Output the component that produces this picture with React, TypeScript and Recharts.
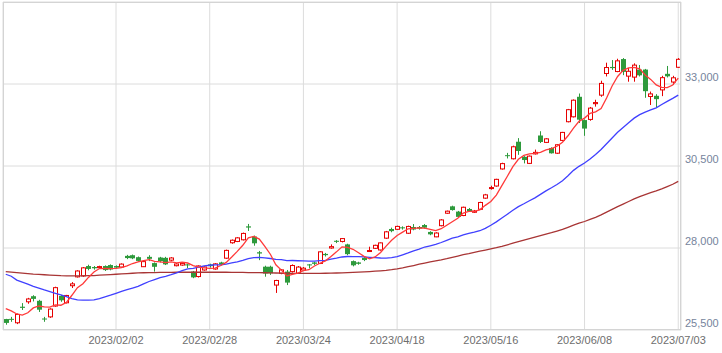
import { Bar, CartesianGrid, ComposedChart, Line, XAxis, YAxis } from "recharts";

const dates = [
  "2023/01/04", "2023/01/05", "2023/01/06", "2023/01/10", "2023/01/11", "2023/01/12", "2023/01/13", "2023/01/16", "2023/01/17", "2023/01/18",
  "2023/01/19", "2023/01/20", "2023/01/23", "2023/01/24", "2023/01/25", "2023/01/26", "2023/01/27", "2023/01/30", "2023/01/31", "2023/02/01",
  "2023/02/02", "2023/02/03", "2023/02/06", "2023/02/07", "2023/02/08", "2023/02/09", "2023/02/10", "2023/02/13", "2023/02/14", "2023/02/15",
  "2023/02/16", "2023/02/17", "2023/02/20", "2023/02/21", "2023/02/22", "2023/02/24", "2023/02/27", "2023/02/28", "2023/03/01", "2023/03/02",
  "2023/03/03", "2023/03/06", "2023/03/07", "2023/03/08", "2023/03/09", "2023/03/10", "2023/03/13", "2023/03/14", "2023/03/15", "2023/03/16",
  "2023/03/17", "2023/03/20", "2023/03/22", "2023/03/23", "2023/03/24", "2023/03/27", "2023/03/28", "2023/03/29", "2023/03/30", "2023/03/31",
  "2023/04/03", "2023/04/04", "2023/04/05", "2023/04/06", "2023/04/07", "2023/04/10", "2023/04/11", "2023/04/12", "2023/04/13", "2023/04/14",
  "2023/04/17", "2023/04/18", "2023/04/19", "2023/04/20", "2023/04/21", "2023/04/24", "2023/04/25", "2023/04/26", "2023/04/27", "2023/04/28",
  "2023/05/01", "2023/05/02", "2023/05/08", "2023/05/09", "2023/05/10", "2023/05/11", "2023/05/12", "2023/05/15", "2023/05/16", "2023/05/17",
  "2023/05/18", "2023/05/19", "2023/05/22", "2023/05/23", "2023/05/24", "2023/05/25", "2023/05/26", "2023/05/29", "2023/05/30", "2023/05/31",
  "2023/06/01", "2023/06/02", "2023/06/05", "2023/06/06", "2023/06/07", "2023/06/08", "2023/06/09", "2023/06/12", "2023/06/13", "2023/06/14",
  "2023/06/15", "2023/06/16", "2023/06/19", "2023/06/20", "2023/06/21", "2023/06/22", "2023/06/23", "2023/06/26", "2023/06/27", "2023/06/28",
  "2023/06/29", "2023/06/30", "2023/07/03",
];

const openPrices = [
  25834, 25840, 25720, 26210, 26360, 26530, 26390, 25850, 25900, 26230,
  26540, 26330, 26850, 27120, 27150, 27450, 27420, 27400, 27450, 27480,
  27450, 27420, 27760, 27780, 27720, 27430, 27730, 27540, 27710, 27700,
  27630, 27460, 27480, 27500, 27280, 27130, 27330, 27500, 27360, 27560,
  27690, 28160, 28200, 28250, 28660, 28350, 27870, 27430, 27430, 26870,
  27230, 27280, 27280, 27230, 27330, 27500, 27560, 27530, 27820, 28000,
  28220, 28200, 28110, 27600, 27560, 27700, 27900, 27990, 27940, 28300,
  28580, 28570, 28630, 28450, 28640, 28640, 28700, 28490, 28340, 28680,
  29060, 29270, 29110, 28990, 29190, 29090, 29180, 29520, 29830, 29890,
  30410, 30830, 30720, 31240, 30780, 30580, 30870, 31430, 31220, 31050,
  30890, 31280, 31850, 32000, 32610, 31900, 31920, 32400, 32660, 33320,
  33520, 33380, 33760, 33240, 33210, 33440, 33440, 32620, 32640, 32820,
  33310, 33060, 33510,
];

const highPrices = [
  25840, 25900, 26000, 26320, 26480, 26560, 26420, 25900, 26160, 26820,
  26570, 26570, 26960, 27320, 27420, 27490, 27450, 27460, 27470, 27500,
  27470, 27530, 27790, 27800, 27740, 27600, 27780, 27560, 27730, 27730,
  27720, 27540, 27560, 27520, 27300, 27470, 27440, 27520, 27540, 27580,
  27950, 28260, 28330, 28470, 28734, 28380, 27910, 27460, 27460, 27030,
  27360, 27330, 27500, 27450, 27420, 27510, 27580, 27900, 27850, 28110,
  28240, 28300, 28130, 27620, 27580, 27720, 28040, 28100, 28170, 28520,
  28620, 28680, 28660, 28680, 28730, 28670, 28730, 28510, 28480, 28880,
  29140, 29290, 29130, 29260, 29220, 29160, 29410, 29650, 29900, 30110,
  30600, 30900, 31120, 31350, 30800, 30820, 31000, 31560, 31350, 31070,
  31160, 31540, 32240, 32530, 32710, 31920, 32300, 32520, 33100, 33650,
  33730, 33770, 33790, 33490, 33630, 33580, 33460, 32770, 32690, 33250,
  33550, 33250, 33790,
];

const lowPrices = [
  25661, 25750, 25680, 26110, 26300, 26370, 26050, 25750, 25870, 26210,
  26360, 26310, 26780, 27100, 27120, 27320, 27340, 27370, 27300, 27320,
  27380, 27400, 27660, 27660, 27580, 27420, 27600, 27280, 27560, 27480,
  27600, 27440, 27460, 27390, 27080, 27100, 27310, 27400, 27340, 27470,
  27670, 28130, 28180, 28230, 28520, 28070, 27630, 27125, 27180, 26630,
  27200, 26870, 27250, 27210, 27300, 27380, 27480, 27510, 27740, 27980,
  28150, 28170, 27780, 27440, 27490, 27600, 27880, 27970, 27920, 28280,
  28480, 28550, 28560, 28430, 28540, 28560, 28590, 28390, 28330, 28660,
  29040, 29140, 28920, 28970, 29100, 29070, 29160, 29500, 29780, 29870,
  30390, 30730, 30700, 30840, 30580, 30560, 30850, 31200, 31200, 30880,
  30870, 31260, 31830, 31980, 31810, 31420, 31880, 32310, 32610, 33230,
  33430, 33360, 33270, 33070, 33070, 33230, 32580, 32360, 32270, 32630,
  33200, 32970, 33490,
];

const closePrices = [
  25716, 25820, 25973, 26175, 26446, 26449, 26119, 25822, 26138, 26791,
  26405, 26553, 26906, 27299, 27395, 27362, 27382, 27433, 27327, 27346,
  27402, 27509, 27693, 27685, 27606, 27584, 27670, 27427, 27602, 27501,
  27696, 27513, 27531, 27473, 27104, 27453, 27423, 27445, 27516, 27498,
  27927, 28237, 28309, 28444, 28623, 28143, 27832, 27222, 27229, 27010,
  27333, 26945, 27466, 27419, 27385, 27476, 27518, 27883, 27782, 28041,
  28188, 28287, 27813, 27472, 27518, 27633, 27923, 28082, 28156, 28493,
  28514, 28658, 28606, 28657, 28564, 28593, 28620, 28416, 28457, 28856,
  29123, 29157, 28949, 29242, 29122, 29126, 29388, 29620, 29842, 30093,
  30573, 30808, 31086, 30957, 30682, 30801, 30916, 31233, 31328, 30887,
  31148, 31524, 32217, 32506, 31913, 31641, 32265, 32434, 33018, 33502,
  33485, 33706, 33370, 33388, 33575, 33264, 32781, 32698, 32538, 33193,
  33234, 33189, 33753,
];

// moving averages (5 / 25 / 75 days)
const ma5 = [
  26150, 26084, 25989, 25956, 26026, 26173, 26232, 26202, 26195, 26264,
  26255, 26342, 26559, 26791, 26912, 27103, 27269, 27374, 27380, 27370,
  27378, 27403, 27455, 27527, 27579, 27615, 27648, 27594, 27578, 27557,
  27579, 27548, 27569, 27543, 27463, 27415, 27397, 27380, 27388, 27467,
  27562, 27725, 27897, 28083, 28308, 28351, 28270, 28053, 27810, 27487,
  27325, 27148, 27197, 27235, 27310, 27338, 27453, 27536, 27609, 27740,
  27882, 28036, 28022, 27960, 27856, 27745, 27672, 27726, 27862, 28057,
  28234, 28381, 28485, 28586, 28600, 28616, 28608, 28570, 28530, 28588,
  28694, 28802, 28908, 29065, 29119, 29119, 29165, 29300, 29420, 29614,
  29903, 30187, 30480, 30703, 30821, 30867, 30888, 30918, 30992, 31033,
  31102, 31224, 31421, 31656, 31862, 31960, 32108, 32152, 32254, 32572,
  32941, 33229, 33416, 33490, 33505, 33461, 33276, 33141, 32971, 32895,
  32889, 32970, 33181,
];

const ma25 = [
  27200, 27140, 27020, 26960, 26900, 26830, 26780, 26720, 26670, 26620,
  26570, 26520, 26460, 26420, 26410, 26410, 26420, 26460, 26510, 26560,
  26620, 26680, 26730, 26780, 26830, 26905, 26979, 27037, 27094, 27136,
  27186, 27242, 27310, 27364, 27376, 27418, 27453, 27474, 27483, 27487,
  27510, 27544, 27579, 27624, 27675, 27704, 27717, 27699, 27680, 27656,
  27646, 27617, 27619, 27612, 27607, 27598, 27598, 27613, 27625, 27662,
  27692, 27726, 27741, 27739, 27740, 27728, 27716, 27707, 27695, 27690,
  27705, 27738, 27793, 27850, 27912, 27963, 28030, 28068, 28109, 28168,
  28234, 28300, 28342, 28401, 28444, 28481, 28526, 28598, 28693, 28796,
  28913, 29029, 29149, 29261, 29348, 29440, 29530, 29635, 29742, 29835,
  29937, 30053, 30205, 30367, 30490, 30590, 30715, 30854, 31005, 31180,
  31355, 31527, 31677, 31819, 31959, 32066, 32145, 32210, 32273, 32373,
  32471, 32561, 32662,
];

const ma75 = [
  27280, 27265, 27250, 27235, 27220, 27205, 27195, 27185, 27175, 27165,
  27155, 27150, 27148, 27148, 27150, 27155, 27160, 27170, 27180, 27190,
  27200, 27210, 27220, 27230, 27240, 27245, 27250, 27252, 27254, 27256,
  27258, 27260, 27260, 27260, 27260, 27260, 27260, 27260, 27260, 27260,
  27260, 27258, 27256, 27254, 27252, 27250, 27248, 27245, 27242, 27238,
  27234, 27230, 27228, 27226, 27225, 27225, 27226, 27228, 27230, 27234,
  27238, 27242, 27248, 27255, 27262, 27270, 27280, 27292, 27305, 27320,
  27340, 27365, 27395, 27430, 27466, 27505, 27542, 27575, 27605, 27637,
  27673, 27713, 27755, 27796, 27827, 27864, 27902, 27938, 27972, 28008,
  28050, 28096, 28145, 28193, 28238, 28283, 28328, 28376, 28424, 28468,
  28516, 28567, 28631, 28696, 28755, 28808, 28871, 28936, 29010, 29096,
  29176, 29260, 29339, 29417, 29498, 29569, 29630, 29688, 29743, 29804,
  29872, 29943, 30030,
];

const dateTicks = ["2023/02/02", "2023/02/28", "2023/03/24", "2023/04/18", "2023/05/16", "2023/06/08", "2023/07/03"];
const priceTicks = [25500, 28000, 30500, 33000];

const UP = "#e60000";
const DOWN = "#2e9a3c";
const FONT = "'Liberation Sans', Arial, sans-serif";

const data = dates.map((date, i) => ({
  date,
  open: openPrices[i],
  high: highPrices[i],
  low: lowPrices[i],
  close: closePrices[i],
  ma5: ma5[i],
  ma25: ma25[i],
  ma75: ma75[i],
}));

type CandleProps = {
  x?: number;
  y?: number;
  width?: number;
  height?: number;
  payload?: (typeof data)[number];
};

function Candle({ x = 0, y = 0, width = 0, height = 0, payload }: CandleProps) {
  if (!payload) return null;
  const { open, close, high, low } = payload;
  const top = Math.min(y, y + height);
  const span = Math.abs(height);
  const perUnit = span / (high - low || 1);
  const toY = (v: number) => top + (high - v) * perUnit;
  const center = Math.round(x + width / 2);
  const up = close >= open;
  const color = up ? UP : DOWN;
  const bodyTop = toY(Math.max(open, close));
  const bodyBottom = Math.max(toY(Math.min(open, close)), bodyTop + 1);

  return (
    <g>
      <line x1={center + 0.5} x2={center + 0.5} y1={toY(high)} y2={toY(low)} stroke={color} strokeWidth={1} />
      {up ? (
        <rect
          x={center - 1.5}
          y={bodyTop}
          width={4}
          height={Math.max(bodyBottom - bodyTop, 1)}
          fill="#ffffff"
          stroke={color}
          strokeWidth={1}
        />
      ) : (
        <rect x={center - 2} y={bodyTop} width={5} height={bodyBottom - bodyTop} fill={color} />
      )}
    </g>
  );
}

type TickProps = {
  x?: number;
  y?: number;
  payload?: { value: number };
};

function PriceTick({ x = 0, y = 0, payload }: TickProps) {
  return (
    <text x={x} y={y - 3} textAnchor="start" fill="#76849c" fontSize={11} fontFamily={FONT}>
      {payload?.value.toLocaleString("en-US")}
    </text>
  );
}

export default function App() {
  return (
    <div style={{ position: "absolute", left: 0, top: 0, width: 722, height: 353, background: "#fff" }}>
      <ComposedChart width={722} height={353} data={data} margin={{ top: 2, right: 0, bottom: 0, left: 3 }}>
        <CartesianGrid stroke="#dcdcdc" strokeWidth={1} />
        <XAxis
          dataKey="date"
          ticks={dateTicks}
          interval={0}
          axisLine={false}
          tickLine={false}
          tickSize={4}
          height={23}
          tick={{ fill: "#6e6e6e", fontSize: 11, fontFamily: FONT }}
        />
        <YAxis
          orientation="right"
          domain={[25500, 35500]}
          ticks={priceTicks}
          axisLine={false}
          tickLine={false}
          tickSize={4}
          tickMargin={0}
          width={41}
          tick={<PriceTick />}
        />
        <Bar dataKey={(d: (typeof data)[number]) => [d.low, d.high]} shape={<Candle />} isAnimationActive={false} />
        <Line type="linear" dataKey="ma75" stroke="#a83535" strokeWidth={1.3} dot={false} isAnimationActive={false} />
        <Line type="linear" dataKey="ma25" stroke="#4040ff" strokeWidth={1.3} dot={false} isAnimationActive={false} />
        <Line type="linear" dataKey="ma5" stroke="#ff3a3a" strokeWidth={1.3} dot={false} isAnimationActive={false} />
      </ComposedChart>
      <div
        style={{
          position: "absolute",
          left: 3,
          top: 2,
          width: 678,
          height: 328,
          boxSizing: "border-box",
          border: "1px solid #d4d4d4",
          pointerEvents: "none",
        }}
      />
    </div>
  );
}
